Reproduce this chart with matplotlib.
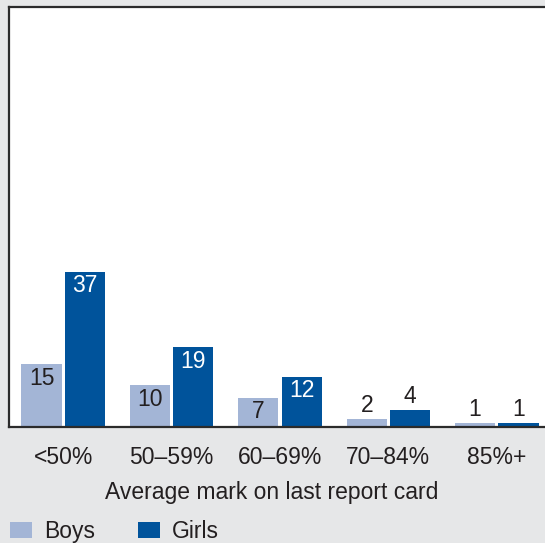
import matplotlib
matplotlib.use("Agg")
import matplotlib.pyplot as plt
from matplotlib.patches import Patch
import numpy as np

categories = ["<50%", "50\u201359%", "60\u201369%", "70\u201384%", "85%+"]
boys = [15, 10, 7, 2, 1]
girls = [37, 19, 12, 4, 1]
series_names = ["Boys", "Girls"]
xlabel = "Average mark on last report card"

BG = "#e6e7e8"
BOYS_C = "#a3b5d6"
GIRLS_C = "#00539b"
TXT = "#231f20"

plt.rcParams['font.family'] = ['Liberation Sans', 'DejaVu Sans']
FS = 16.5

fig = plt.figure(figsize=(5.45, 5.43), dpi=100, facecolor=BG)
W, H = 545, 543
L, R, T, B = 9, 551, 7, 427
ax = fig.add_axes([L / W, (H - B) / H, (R - L) / W, (B - T) / H])
ax.set_facecolor("white")

x = np.arange(len(categories))
bw = 0.37
off = 0.2
ax.bar(x - off, boys, bw, color=BOYS_C, zorder=2)
ax.bar(x + off, girls, bw, color=GIRLS_C, zorder=2)

ax.set_xlim(-0.5, 4.5)
ax.set_ylim(0, 100)
ax.set_yticks([])
ax.set_xticks(x)
ax.set_xticklabels(categories, fontsize=FS, color=TXT)
ax.tick_params(axis='x', length=0, pad=13.5)
for s in ['left', 'top', 'bottom']:
    ax.spines[s].set_color("#2b2b2b")
    ax.spines[s].set_linewidth(1.6)
ax.spines['right'].set_visible(False)

for xi, v in zip(x, boys):
    if v >= 5:
        ax.text(xi - off, v - 3.4, str(v), ha='center', va='center', fontsize=FS, color=TXT)
    else:
        ax.text(xi - off, v + 3.2, str(v), ha='center', va='center', fontsize=FS, color=TXT)
for xi, v in zip(x, girls):
    if v >= 5:
        ax.text(xi + off, v - 3.4, str(v), ha='center', va='center', fontsize=FS, color='white')
    else:
        ax.text(xi + off, v + 3.2, str(v), ha='center', va='center', fontsize=FS, color=TXT)

fig.text(271.5 / W, (H - 498.5) / H, xlabel, ha='center', va='baseline', fontsize=FS, color=TXT)

handles = [Patch(facecolor=BOYS_C, edgecolor='none'), Patch(facecolor=GIRLS_C, edgecolor='none')]
leg = fig.legend(handles, series_names, loc='lower left', bbox_to_anchor=(10 / W, 0.0),
                 ncol=2, frameon=False, fontsize=FS, handlelength=0.95, handleheight=0.66,
                 handletextpad=0.55, columnspacing=1.85, borderpad=0.0, borderaxespad=0.0)
for t in leg.get_texts():
    t.set_color(TXT)

fig.savefig("out.png", dpi=100, facecolor=BG)
